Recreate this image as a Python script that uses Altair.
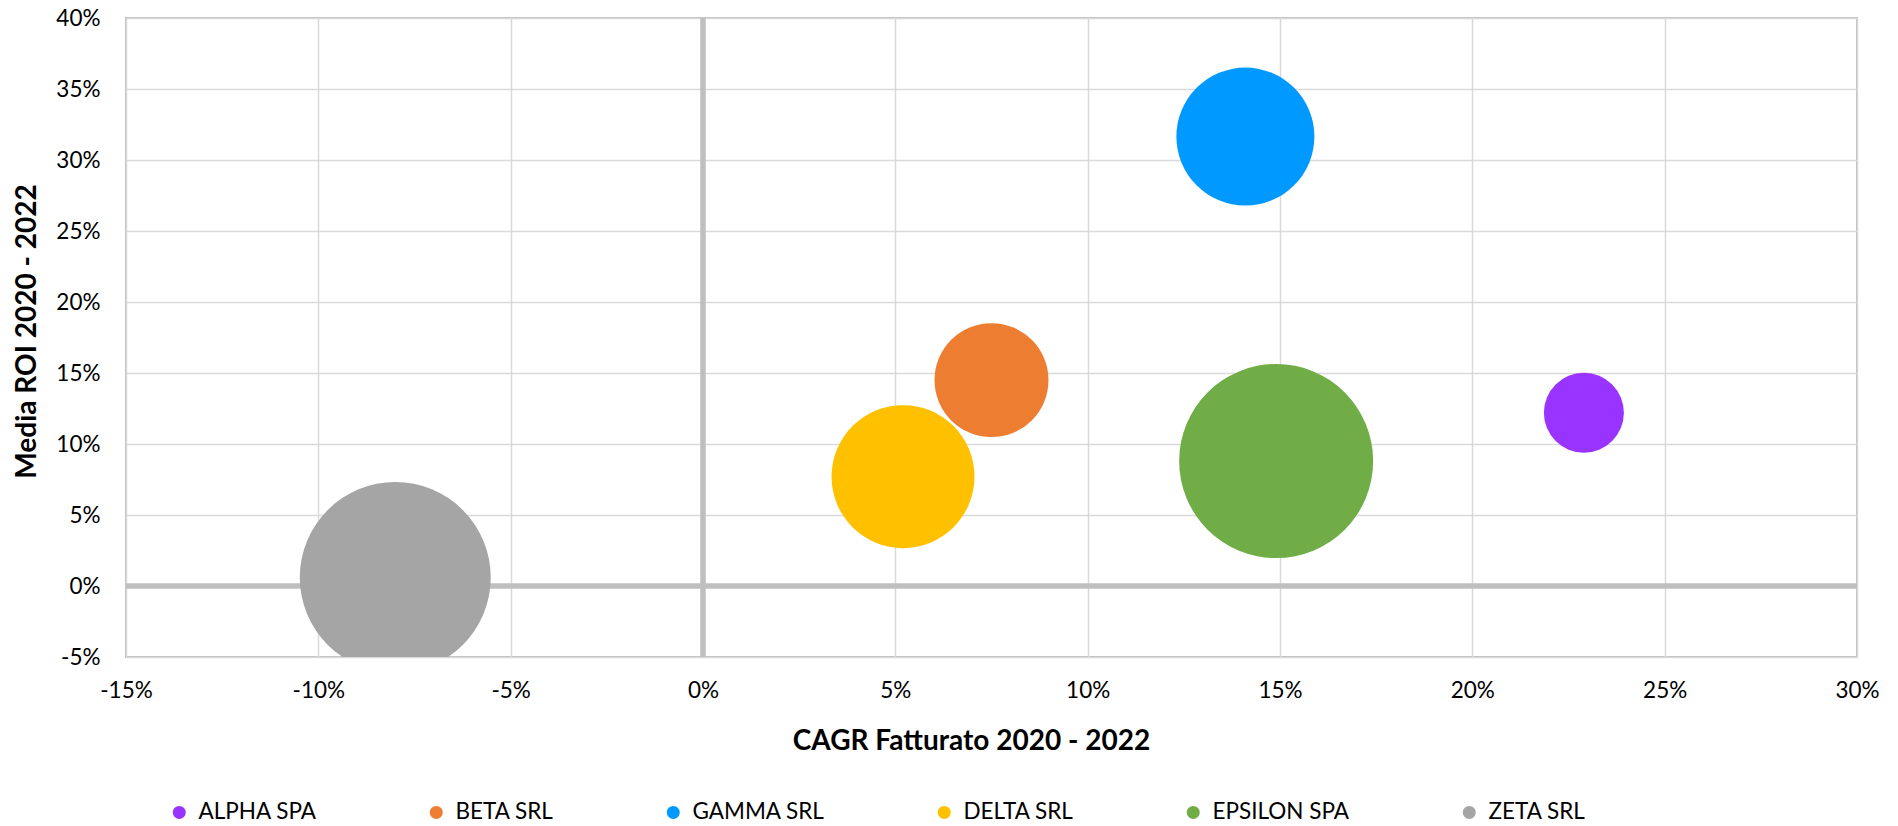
import altair as alt
import pandas as pd

# Aziende a confronto: crescita del fatturato vs redditività media
aziende = ["ALPHA SPA", "BETA SRL", "GAMMA SRL", "DELTA SRL", "EPSILON SPA", "ZETA SRL"]
cagr_fatturato = [0.229, 0.075, 0.141, 0.052, 0.149, -0.080]
media_roi = [0.122, 0.145, 0.3165, 0.077, 0.088, 0.006]
dimensione = [17.0, 34.5, 50.6, 54.3, 100.0, 96.9]
colori = ["#9933FF", "#ED7D31", "#0099FF", "#FFC000", "#70AD47", "#A5A5A5"]

x_ticks = [-0.15, -0.10, -0.05, 0.0, 0.05, 0.10, 0.15, 0.20, 0.25, 0.30]
y_ticks = [-0.05, 0.0, 0.05, 0.10, 0.15, 0.20, 0.25, 0.30, 0.35, 0.40]
x_domain = [-0.15, 0.30]
y_domain = [-0.05, 0.40]

FONT = "Lato"
GRID = "#D9D9D9"
ZERO = "#BFBFBF"

df = pd.DataFrame({
    "Azienda": aziende,
    "CAGR": cagr_fatturato,
    "ROI": media_roi,
    "Dimensione": dimensione,
})
zero_df = pd.DataFrame({"v": [0.0]})

pct_label = "replace(format(datum.value, '.0%'), '\u2212', '-')"

x_scale = alt.Scale(domain=x_domain, nice=False, zero=False)
y_scale = alt.Scale(domain=y_domain, nice=False, zero=False)

x_axis = alt.Axis(
    title="CAGR Fatturato 2020 - 2022",
    values=x_ticks, labelExpr=pct_label,
    ticks=False, domain=False,
    grid=True, gridColor=GRID, gridWidth=1.5,
    labelFont=FONT, labelFontSize=22.5, labelColor="#000000", labelPadding=22,
    labelFlush=False, labelOverlap=False,
    titleFont=FONT, titleFontSize=28, titleFontWeight="bold", titleColor="#000000",
    titlePadding=26, titleX=845,
)
y_axis = alt.Axis(
    title="Media ROI 2020 - 2022",
    values=y_ticks, labelExpr=pct_label,
    ticks=False, domain=False,
    grid=True, gridColor=GRID, gridWidth=1.5,
    labelFont=FONT, labelFontSize=22.5, labelColor="#000000", labelPadding=26,
    labelFlush=False, labelOverlap=False,
    titleFont=FONT, titleFontSize=28, titleFontWeight="bold", titleColor="#000000",
    titlePadding=14, titleY=313,
)

# assi dello zero, più spessi della griglia
zero_x = alt.Chart(zero_df).mark_rule(color=ZERO, strokeWidth=5.5).encode(
    x=alt.X("v:Q", scale=x_scale, axis=x_axis)
)
zero_y = alt.Chart(zero_df).mark_rule(color=ZERO, strokeWidth=5.5).encode(
    y=alt.Y("v:Q", scale=y_scale, axis=y_axis)
)

bubbles = alt.Chart(df).mark_point(
    shape="circle", filled=True, opacity=1, strokeWidth=0, clip=True
).encode(
    x=alt.X("CAGR:Q", scale=x_scale, axis=x_axis),
    y=alt.Y("ROI:Q", scale=y_scale, axis=y_axis),
    size=alt.Size("Dimensione:Q", scale=alt.Scale(domain=[0, 100], range=[0, 37636], zero=True), legend=None),
    color=alt.Color(
        "Azienda:N",
        scale=alt.Scale(domain=aziende, range=colori),
        legend=alt.Legend(
            title=None, orient="none", direction="horizontal",
            legendX=42, legendY=783, padding=0,
            symbolType="circle", symbolSize=169, symbolStrokeWidth=0,
            labelFont=FONT, labelFontSize=22.5, labelColor="#000000",
            labelOffset=8, columnPadding=108,
        ),
    ),
)

chart = alt.layer(zero_x, zero_y, bubbles).properties(
    width=1731,
    height=639,
    padding={"left": 126, "top": 18, "right": 41, "bottom": 169},
    autosize=alt.AutoSizeParams(type="none"),
    background="#FFFFFF",
).configure_view(
    stroke=ZERO, strokeWidth=2
)

chart.save("out.html", embed_options={"renderer": "svg", "actions": False})
